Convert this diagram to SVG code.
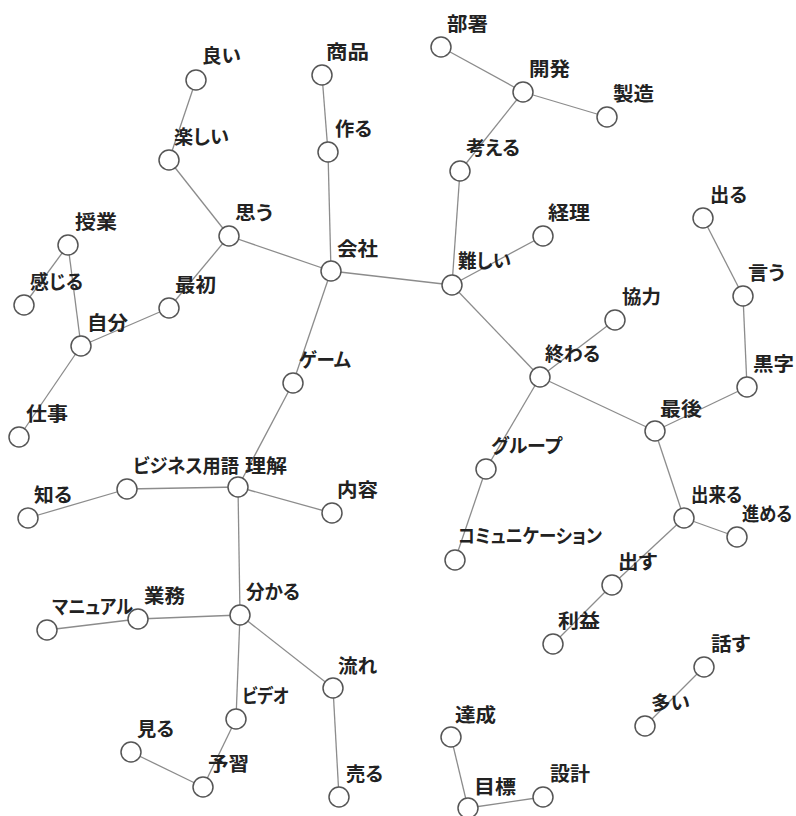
<svg xmlns="http://www.w3.org/2000/svg" width="796" height="816" viewBox="0 0 796 816">
<style>
.e{stroke:#8c8c8c;stroke-width:1.3;fill:none}
.n circle{fill:#fff;stroke:#555;stroke-width:1.5}
.n text{font-family:"Noto Sans CJK JP","Noto Sans",sans-serif;font-weight:bold;font-size:19px;font-feature-settings:"palt";fill:#222}
</style>
<rect width="796" height="816" fill="#fff"/>
<g id="edges">
<line class="e" x1="196" y1="80" x2="169" y2="160"/>
<line class="e" x1="169" y1="160" x2="229" y2="236"/>
<line class="e" x1="229" y1="236" x2="331" y2="271"/>
<line class="e" x1="229" y1="236" x2="169" y2="308"/>
<line class="e" x1="169" y1="308" x2="81" y2="346"/>
<line class="e" x1="81" y1="346" x2="68" y2="245"/>
<line class="e" x1="68" y1="245" x2="24" y2="305"/>
<line class="e" x1="81" y1="346" x2="19" y2="437"/>
<line class="e" x1="322" y1="75" x2="328" y2="152"/>
<line class="e" x1="328" y1="152" x2="331" y2="271"/>
<line class="e" x1="331" y1="271" x2="452" y2="285"/>
<line class="e" x1="331" y1="271" x2="293" y2="383"/>
<line class="e" x1="293" y1="383" x2="238" y2="487"/>
<line class="e" x1="238" y1="487" x2="127" y2="489"/>
<line class="e" x1="127" y1="489" x2="28" y2="518"/>
<line class="e" x1="238" y1="487" x2="332" y2="513"/>
<line class="e" x1="238" y1="487" x2="240" y2="615"/>
<line class="e" x1="240" y1="615" x2="138" y2="619"/>
<line class="e" x1="138" y1="619" x2="47" y2="630"/>
<line class="e" x1="240" y1="615" x2="236" y2="719"/>
<line class="e" x1="236" y1="719" x2="203" y2="787"/>
<line class="e" x1="203" y1="787" x2="131" y2="752"/>
<line class="e" x1="240" y1="615" x2="333" y2="688"/>
<line class="e" x1="333" y1="688" x2="339" y2="797"/>
<line class="e" x1="441" y1="47" x2="523" y2="92"/>
<line class="e" x1="523" y1="92" x2="607" y2="117"/>
<line class="e" x1="523" y1="92" x2="460" y2="171"/>
<line class="e" x1="460" y1="171" x2="452" y2="285"/>
<line class="e" x1="452" y1="285" x2="543" y2="236"/>
<line class="e" x1="452" y1="285" x2="540" y2="377"/>
<line class="e" x1="540" y1="377" x2="615" y2="320"/>
<line class="e" x1="540" y1="377" x2="486" y2="469"/>
<line class="e" x1="486" y1="469" x2="455" y2="560"/>
<line class="e" x1="540" y1="377" x2="655" y2="431"/>
<line class="e" x1="655" y1="431" x2="747" y2="387"/>
<line class="e" x1="747" y1="387" x2="743" y2="296"/>
<line class="e" x1="743" y1="296" x2="703" y2="218"/>
<line class="e" x1="655" y1="431" x2="684" y2="518"/>
<line class="e" x1="684" y1="518" x2="737" y2="537"/>
<line class="e" x1="684" y1="518" x2="612" y2="585"/>
<line class="e" x1="612" y1="585" x2="553" y2="644"/>
<line class="e" x1="704" y1="667" x2="645" y2="726"/>
<line class="e" x1="451" y1="737" x2="468" y2="808"/>
<line class="e" x1="468" y1="808" x2="543" y2="797"/>
</g>
<g id="n-yoi" class="n"><circle cx="196" cy="80" r="10"/><text x="202" y="63" textLength="39" lengthAdjust="spacingAndGlyphs">良い</text></g>
<g id="n-tanoshii" class="n"><circle cx="169" cy="160" r="10"/><text x="174" y="144" textLength="55" lengthAdjust="spacingAndGlyphs">楽しい</text></g>
<g id="n-omou" class="n"><circle cx="229" cy="236" r="10"/><text x="235" y="220" textLength="38" lengthAdjust="spacingAndGlyphs">思う</text></g>
<g id="n-jugyou" class="n"><circle cx="68" cy="245" r="10"/><text x="75" y="229" textLength="42" lengthAdjust="spacingAndGlyphs">授業</text></g>
<g id="n-kanjiru" class="n"><circle cx="24" cy="305" r="10"/><text x="30" y="289" textLength="53" lengthAdjust="spacingAndGlyphs">感じる</text></g>
<g id="n-saisho" class="n"><circle cx="169" cy="308" r="10"/><text x="175" y="292" textLength="41" lengthAdjust="spacingAndGlyphs">最初</text></g>
<g id="n-jibun" class="n"><circle cx="81" cy="346" r="10"/><text x="87" y="330" textLength="41" lengthAdjust="spacingAndGlyphs">自分</text></g>
<g id="n-shigoto" class="n"><circle cx="19" cy="437" r="10"/><text x="26" y="421" textLength="42" lengthAdjust="spacingAndGlyphs">仕事</text></g>
<g id="n-shouhin" class="n"><circle cx="322" cy="75" r="10"/><text x="326" y="59" textLength="43" lengthAdjust="spacingAndGlyphs">商品</text></g>
<g id="n-tsukuru" class="n"><circle cx="328" cy="152" r="10"/><text x="335" y="136" textLength="37" lengthAdjust="spacingAndGlyphs">作る</text></g>
<g id="n-kaisha" class="n"><circle cx="331" cy="271" r="10"/><text x="337" y="256" textLength="41" lengthAdjust="spacingAndGlyphs">会社</text></g>
<g id="n-busho" class="n"><circle cx="441" cy="47" r="10"/><text x="447" y="31" textLength="41" lengthAdjust="spacingAndGlyphs">部署</text></g>
<g id="n-kaihatsu" class="n"><circle cx="523" cy="92" r="10"/><text x="529" y="76" textLength="41" lengthAdjust="spacingAndGlyphs">開発</text></g>
<g id="n-seizou" class="n"><circle cx="607" cy="117" r="10"/><text x="613" y="101" textLength="41" lengthAdjust="spacingAndGlyphs">製造</text></g>
<g id="n-kangaeru" class="n"><circle cx="460" cy="171" r="10"/><text x="466" y="155" textLength="54" lengthAdjust="spacingAndGlyphs">考える</text></g>
<g id="n-muzukashii" class="n"><circle cx="452" cy="285" r="10"/><text x="458" y="268" textLength="53" lengthAdjust="spacingAndGlyphs">難しい</text></g>
<g id="n-keiri" class="n"><circle cx="543" cy="236" r="10"/><text x="548" y="220" textLength="42" lengthAdjust="spacingAndGlyphs">経理</text></g>
<g id="n-deru" class="n"><circle cx="703" cy="218" r="10"/><text x="710" y="202" textLength="37" lengthAdjust="spacingAndGlyphs">出る</text></g>
<g id="n-iu" class="n"><circle cx="743" cy="296" r="10"/><text x="748" y="280" textLength="37" lengthAdjust="spacingAndGlyphs">言う</text></g>
<g id="n-kyouryoku" class="n"><circle cx="615" cy="320" r="10"/><text x="622" y="304" textLength="39" lengthAdjust="spacingAndGlyphs">協力</text></g>
<g id="n-owaru" class="n"><circle cx="540" cy="377" r="10"/><text x="545" y="361" textLength="55" lengthAdjust="spacingAndGlyphs">終わる</text></g>
<g id="n-kuroji" class="n"><circle cx="747" cy="387" r="10"/><text x="753" y="371" textLength="41" lengthAdjust="spacingAndGlyphs">黒字</text></g>
<g id="n-saigo" class="n"><circle cx="655" cy="431" r="10"/><text x="660" y="416" textLength="42" lengthAdjust="spacingAndGlyphs">最後</text></g>
<g id="n-game" class="n"><circle cx="293" cy="383" r="10"/><text x="299" y="367" textLength="52" lengthAdjust="spacingAndGlyphs">ゲーム</text></g>
<g id="n-group" class="n"><circle cx="486" cy="469" r="10"/><text x="491" y="453" textLength="71" lengthAdjust="spacingAndGlyphs">グループ</text></g>
<g id="n-rikai" class="n"><circle cx="238" cy="487" r="10"/><text x="245" y="473" textLength="42" lengthAdjust="spacingAndGlyphs">理解</text></g>
<g id="n-business" class="n"><circle cx="127" cy="489" r="10"/><text x="133" y="473" textLength="106" lengthAdjust="spacingAndGlyphs">ビジネス用語</text></g>
<g id="n-shiru" class="n"><circle cx="28" cy="518" r="10"/><text x="34" y="502" textLength="38" lengthAdjust="spacingAndGlyphs">知る</text></g>
<g id="n-naiyou" class="n"><circle cx="332" cy="513" r="10"/><text x="337" y="497" textLength="41" lengthAdjust="spacingAndGlyphs">内容</text></g>
<g id="n-dekiru" class="n"><circle cx="684" cy="518" r="10"/><text x="691" y="502" textLength="51" lengthAdjust="spacingAndGlyphs">出来る</text></g>
<g id="n-susumeru" class="n"><circle cx="737" cy="537" r="10"/><text x="742" y="521" textLength="50" lengthAdjust="spacingAndGlyphs">進める</text></g>
<g id="n-comm" class="n"><circle cx="455" cy="560" r="10"/><text x="458" y="543" textLength="144" lengthAdjust="spacingAndGlyphs">コミュニケーション</text></g>
<g id="n-dasu" class="n"><circle cx="612" cy="585" r="10"/><text x="618" y="569" textLength="39" lengthAdjust="spacingAndGlyphs">出す</text></g>
<g id="n-wakaru" class="n"><circle cx="240" cy="615" r="10"/><text x="246" y="599" textLength="54" lengthAdjust="spacingAndGlyphs">分かる</text></g>
<g id="n-gyoumu" class="n"><circle cx="138" cy="619" r="10"/><text x="144" y="603" textLength="41" lengthAdjust="spacingAndGlyphs">業務</text></g>
<g id="n-manual" class="n"><circle cx="47" cy="630" r="10"/><text x="52" y="614" textLength="81" lengthAdjust="spacingAndGlyphs">マニュアル</text></g>
<g id="n-rieki" class="n"><circle cx="553" cy="644" r="10"/><text x="558" y="628" textLength="42" lengthAdjust="spacingAndGlyphs">利益</text></g>
<g id="n-hanasu" class="n"><circle cx="704" cy="667" r="10"/><text x="711" y="651" textLength="39" lengthAdjust="spacingAndGlyphs">話す</text></g>
<g id="n-nagare" class="n"><circle cx="333" cy="688" r="10"/><text x="338" y="673" textLength="39" lengthAdjust="spacingAndGlyphs">流れ</text></g>
<g id="n-video" class="n"><circle cx="236" cy="719" r="10"/><text x="242" y="703" textLength="47" lengthAdjust="spacingAndGlyphs">ビデオ</text></g>
<g id="n-ooi" class="n"><circle cx="645" cy="726" r="10"/><text x="651" y="710" textLength="39" lengthAdjust="spacingAndGlyphs">多い</text></g>
<g id="n-tassei" class="n"><circle cx="451" cy="737" r="10"/><text x="455" y="722" textLength="41" lengthAdjust="spacingAndGlyphs">達成</text></g>
<g id="n-miru" class="n"><circle cx="131" cy="752" r="10"/><text x="137" y="736" textLength="37" lengthAdjust="spacingAndGlyphs">見る</text></g>
<g id="n-yoshuu" class="n"><circle cx="203" cy="787" r="10"/><text x="208" y="771" textLength="41" lengthAdjust="spacingAndGlyphs">予習</text></g>
<g id="n-uru" class="n"><circle cx="339" cy="797" r="10"/><text x="346" y="781" textLength="37" lengthAdjust="spacingAndGlyphs">売る</text></g>
<g id="n-sekkei" class="n"><circle cx="543" cy="797" r="10"/><text x="550" y="781" textLength="40" lengthAdjust="spacingAndGlyphs">設計</text></g>
<g id="n-mokuhyou" class="n"><circle cx="468" cy="808" r="10"/><text x="474" y="794" textLength="42" lengthAdjust="spacingAndGlyphs">目標</text></g>
</svg>
